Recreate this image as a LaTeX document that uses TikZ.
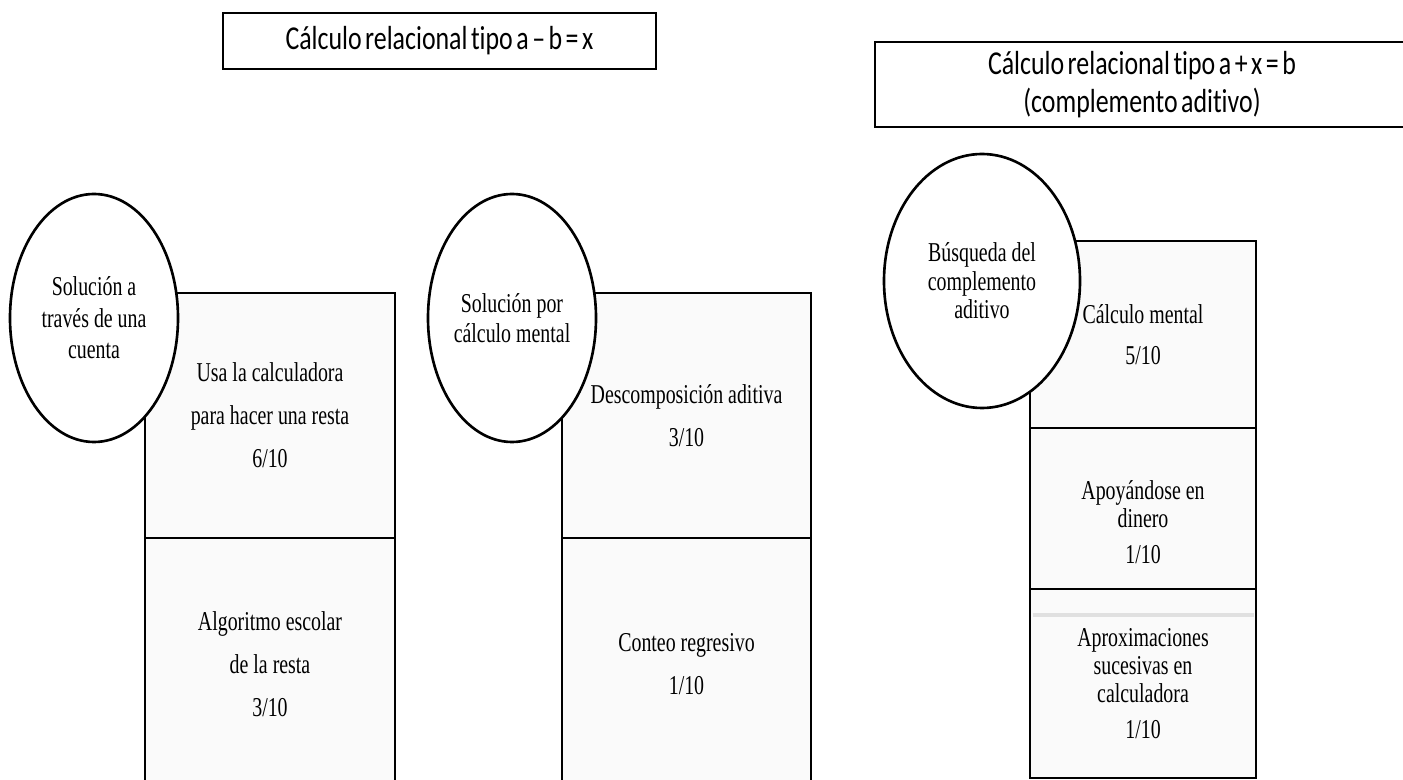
\documentclass[tikz,border=0pt]{standalone}
\usepackage{fontspec}
\usepackage{tikz}
\usetikzlibrary{shapes.geometric}
\setmainfont[FakeStretch=0.73]{Liberation Serif}
\newfontfamily\titulofont[FakeStretch=0.775,WordSpace=0.6,Ligatures=NoCommon]{Carlito}

\begin{document}
\begin{tikzpicture}[
  titulo/.style={draw,line width=1.6pt,align=center,inner sep=0pt,
    font={\titulofont\fontsize{19}{21.5}\selectfont}},
  celda/.style={draw,line width=1.5pt,fill=black!2,align=center,inner sep=0pt,
    font={\fontsize{15.5}{24.5}\selectfont}},
  celdac/.style={celda,font={\fontsize{15.5}{16}\selectfont}},
  ovalo/.style={draw,ellipse,line width=1.5pt,fill=white,align=center,inner sep=0pt}]
  % Marco: 1 cm = 50 px del original (1403 x 780)
  \clip (0,0) rectangle (28.06,-15.6);
  % Titulos
  \node[titulo,minimum width=8.66cm,minimum height=1.12cm] (tresta) at (8.79,-0.82)
    {Cálculo relacional tipo a – b = x};
  \node[titulo,minimum width=10.68cm,minimum height=1.7cm] (tcompl) at (22.84,-1.69)
    {Cálculo relacional tipo a + x = b\\(complemento aditivo)};
  % Columna 1: solucion a traves de una cuenta
  \node[celda,minimum width=5cm,minimum height=4.9cm] (calc) at (5.4,-8.31)
    {Usa la calculadora\\para hacer una resta\\6/10};
  \node[celda,minimum width=5cm,minimum height=5.04cm] (algo) at (5.4,-13.28)
    {Algoritmo escolar\\de la resta\\3/10};
  \node[ovalo,minimum width=3.36cm,minimum height=4.96cm,
    font={\fontsize{15.5}{18}\selectfont}] (cuenta) at (1.88,-6.36)
    {Solución a\\través de una\\cuenta};
  % Columna 2: solucion por calculo mental
  \node[celda,minimum width=4.98cm,minimum height=4.9cm] (desc) at (13.73,-8.31)
    {Descomposición aditiva\\3/10};
  \node[celda,minimum width=4.98cm,minimum height=5.04cm] (conteo) at (13.73,-13.28)
    {Conteo regresivo\\1/10};
  \node[ovalo,minimum width=3.36cm,minimum height=4.96cm,
    font={\fontsize{15.5}{17}\selectfont}] (mental) at (10.24,-6.36)
    {Solución por\\cálculo mental};
  % Columna 3: busqueda del complemento aditivo
  \node[celdac,minimum width=4.52cm,minimum height=3.74cm] (cmental) at (22.86,-6.69)
    {Cálculo mental\\[7pt]5/10};
  \node[celdac,minimum width=4.52cm,minimum height=3.22cm] (dinero) at (22.86,-10.17)
    {\\[10pt]Apoyándose en\\dinero\\[4.5pt]1/10};
  \node[celdac,minimum width=4.52cm,minimum height=3.78cm] (aprox) at (22.86,-13.67)
    {Aproximaciones\\sucesivas en\\calculadora\\[4.5pt]1/10};
  \draw[black!12,line width=2pt] (20.65,-12.3) -- (25.07,-12.3);
  \node[ovalo,minimum width=3.92cm,minimum height=5.08cm,
    font={\fontsize{15.5}{16.3}\selectfont}] (busqueda) at (19.64,-5.62)
    {Búsqueda del\\complemento\\aditivo};
\end{tikzpicture}
\end{document}
